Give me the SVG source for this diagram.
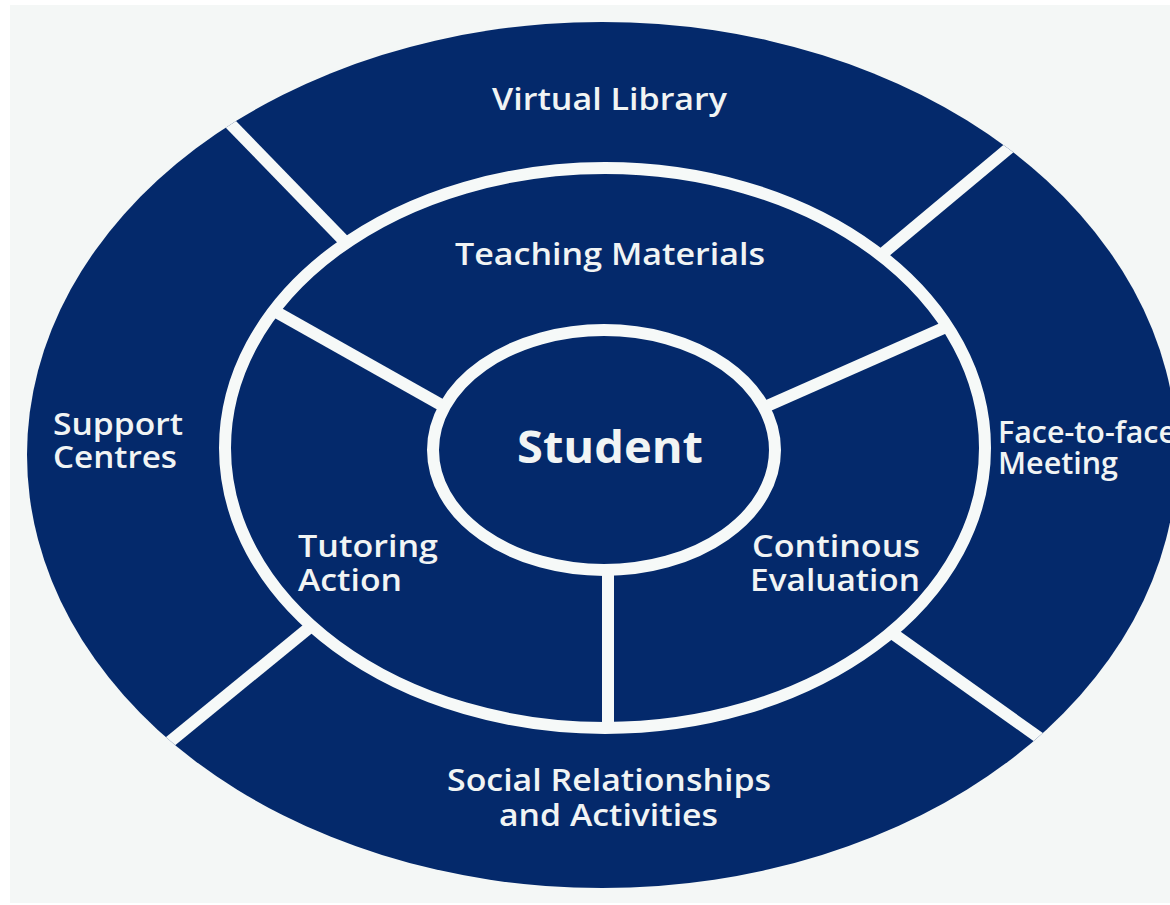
<svg xmlns="http://www.w3.org/2000/svg" width="1170" height="905" viewBox="0 0 1170 905">
<style>
.ring{fill:#04296b}
.band{fill:#04296b;stroke:#f6f9f8;stroke-width:12}
.div{stroke:#f6f9f8;stroke-width:12;fill:none}
.lbl{font-family:"Open Sans","Noto Sans","DejaVu Sans",sans-serif;font-weight:600;font-size:31px;fill:#f1f4f4}
.big{font-family:"Open Sans","Noto Sans","DejaVu Sans",sans-serif;font-weight:700;font-size:45px;fill:#f1f4f4}
</style>
<defs>
<clipPath id="clipOuter"><ellipse cx="602" cy="455" rx="575" ry="433"/></clipPath>
<clipPath id="clipMid"><ellipse cx="605" cy="448" rx="380" ry="280"/></clipPath>
</defs>
<rect x="0" y="0" width="1170" height="905" fill="#ffffff"/>
<rect x="10" y="5" width="1160" height="898" fill="#f4f7f6"/>

<g id="outer-ring">
<ellipse class="ring" cx="602" cy="455" rx="575" ry="433"/>
</g>

<g id="connectors-outer" clip-path="url(#clipOuter)">
<line class="div" x1="350" y1="247" x2="215" y2="108"/>
<line class="div" x1="875" y1="260" x2="1032" y2="129"/>
<line class="div" x1="315" y1="623" x2="150" y2="758"/>
<line class="div" x1="885" y1="628" x2="1062" y2="754"/>
</g>

<g id="middle-ring">
<ellipse class="band" cx="605" cy="448" rx="380" ry="280"/>
</g>

<g id="connectors-inner" clip-path="url(#clipMid)">
<line class="div" x1="262" y1="304" x2="452" y2="411"/>
<line class="div" x1="955" y1="323" x2="758" y2="410"/>
<line class="div" x1="608" y1="550" x2="608" y2="740"/>
</g>

<g id="student">
<ellipse class="band" cx="604" cy="450" rx="171" ry="120"/>
<text class="big" x="610" y="463" text-anchor="middle" textLength="186" lengthAdjust="spacingAndGlyphs">Student</text>
</g>

<g id="virtual-library">
<text class="lbl" x="492" y="110" textLength="235" lengthAdjust="spacingAndGlyphs">Virtual Library</text>
</g>
<g id="teaching-materials">
<text class="lbl" x="455" y="265" textLength="310" lengthAdjust="spacingAndGlyphs">Teaching Materials</text>
</g>
<g id="support-centres">
<text class="lbl" x="53" y="435" textLength="130" lengthAdjust="spacingAndGlyphs">Support</text>
<text class="lbl" x="53" y="468" textLength="124" lengthAdjust="spacingAndGlyphs">Centres</text>
</g>
<g id="face-to-face">
<text class="lbl" x="998" y="443" textLength="178" lengthAdjust="spacingAndGlyphs">Face-to-face</text>
<text class="lbl" x="998" y="474" textLength="120" lengthAdjust="spacingAndGlyphs">Meeting</text>
</g>
<g id="tutoring-action">
<text class="lbl" x="298" y="557" textLength="140" lengthAdjust="spacingAndGlyphs">Tutoring</text>
<text class="lbl" x="298" y="591" textLength="104" lengthAdjust="spacingAndGlyphs">Action</text>
</g>
<g id="continous-evaluation">
<text class="lbl" x="752" y="557" textLength="168" lengthAdjust="spacingAndGlyphs">Continous</text>
<text class="lbl" x="750" y="591" textLength="170" lengthAdjust="spacingAndGlyphs">Evaluation</text>
</g>
<g id="social-relationships">
<text class="lbl" x="447" y="791" textLength="324" lengthAdjust="spacingAndGlyphs">Social Relationships</text>
<text class="lbl" x="499" y="826" textLength="219" lengthAdjust="spacingAndGlyphs">and Activities</text>
</g>
</svg>
